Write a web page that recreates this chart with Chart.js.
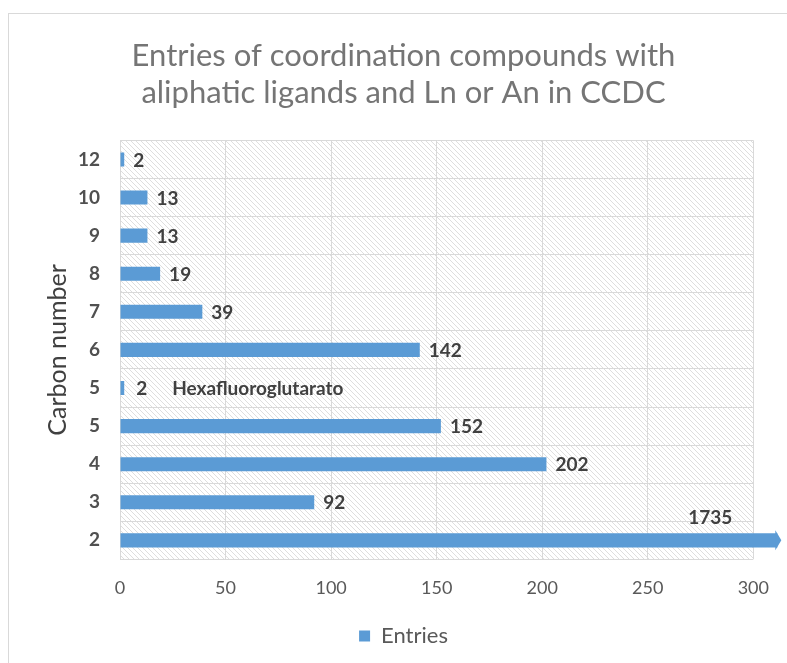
<!DOCTYPE html>
<html>
<head>
<meta charset="utf-8">
<script src="https://cdn.jsdelivr.net/npm/chart.js@4.4.0/dist/chart.umd.min.js"></script>
<style>
html, body { margin: 0; padding: 0; background: #fff; overflow: hidden; }
#frame { position: absolute; left: 8px; top: 13px; width: 820px; height: 700px; border: 1px solid #d9d9d9; }
#wrap { position: absolute; left: 0; top: 0; width: 787px; height: 663px; }
</style>
</head>
<body>
<div id="frame"></div>
<div id="wrap"><canvas id="chart"></canvas></div>
<script>
// categories, top to bottom
const carbonNumbers = ['12', '10', '9', '8', '7', '6', '5', '5', '4', '3', '2'];
const entries = [2, 13, 13, 19, 39, 142, 2, 152, 202, 92, 1735];
const notes = ['', '', '', '', '', '', 'Hexafluoroglutarato', '', '', '', ''];
const xMin = 0, xMax = 300, xStep = 50;

const FONT = 'Lato, "Open Sans", sans-serif';

// fond hachuré de la zone de tracé
const hatchPlugin = {
    id: 'hatch',
    beforeDraw(chart) {
        const { ctx, chartArea } = chart;
        const p = document.createElement('canvas');
        p.width = 5; p.height = 5;
        const pc = p.getContext('2d');
        pc.fillStyle = '#ffffff';
        pc.fillRect(0, 0, 5, 5);
        pc.strokeStyle = '#dedede';
        pc.lineWidth = 1;
        pc.beginPath();
        pc.moveTo(-1, -1); pc.lineTo(6, 6);
        pc.moveTo(-1, 4); pc.lineTo(1, 6);
        pc.moveTo(4, -1); pc.lineTo(6, 1);
        pc.stroke();
        ctx.save();
        ctx.fillStyle = ctx.createPattern(p, 'repeat');
        ctx.fillRect(chartArea.left, chartArea.top, chartArea.right - chartArea.left, chartArea.bottom - chartArea.top);
        ctx.restore();
    }
};

// étiquettes de valeurs + flèche pour la barre tronquée
const labelPlugin = {
    id: 'valueLabels',
    afterDatasetsDraw(chart) {
        const { ctx, chartArea } = chart;
        const meta = chart.getDatasetMeta(0);
        ctx.save();
        ctx.font = 'bold 19px ' + FONT;
        ctx.fillStyle = '#404040';
        ctx.textBaseline = 'middle';
        meta.data.forEach((bar, i) => {
            const v = entries[i];
            if (v > xMax) {
                const tipX = chartArea.right + 28;
                ctx.fillStyle = '#5b9bd5';
                ctx.beginPath();
                ctx.moveTo(tipX - 6, bar.y - 10);
                ctx.lineTo(tipX, bar.y);
                ctx.lineTo(tipX - 6, bar.y + 10);
                ctx.closePath();
                ctx.fill();
                ctx.fillStyle = '#404040';
                ctx.textAlign = 'center';
                ctx.fillText(String(v), chartArea.right - 43, bar.y - 22);
            } else {
                ctx.textAlign = 'left';
                if (notes[i]) {
                    ctx.fillText(String(v), bar.x + 12, bar.y + 1);
                    ctx.fillText(notes[i], bar.x + 48, bar.y + 1);
                } else {
                    ctx.fillText(String(v), bar.x + 9, bar.y + 1);
                }
            }
        });
        ctx.restore();
    }
};

new Chart(document.getElementById('chart'), {
    type: 'bar',
    data: {
        labels: carbonNumbers,
        datasets: [{
            label: 'Entries',
            data: entries,
            backgroundColor: '#5b9bd5',
            barPercentage: 0.37,
            categoryPercentage: 1,
            clip: { left: false, top: false, right: 24, bottom: false }
        }]
    },
    plugins: [hatchPlugin, labelPlugin],
    options: {
        indexAxis: 'y',
        responsive: true,
        maintainAspectRatio: false,
        animation: false,
        layout: { padding: { left: 43, right: 23, top: 37, bottom: 6 } },
        plugins: {
            title: {
                display: true,
                text: ['Entries of coordination compounds with', 'aliphatic ligands and Ln or An in CCDC'],
                color: '#757575',
                font: { family: FONT, size: 31, weight: 'normal' },
                lineHeight: 1.29,
                padding: { top: 0, bottom: 29 }
            },
            legend: {
                position: 'bottom',
                labels: {
                    color: '#595959',
                    font: { family: FONT, size: 22 },
                    boxWidth: 11,
                    boxHeight: 11,
                    padding: 8
                }
            },
            tooltip: { enabled: false }
        },
        scales: {
            x: {
                min: xMin,
                max: xMax,
                ticks: { stepSize: xStep, color: '#595959', font: { family: FONT, size: 18 }, padding: 18 },
                grid: { color: '#d9d9d9', drawTicks: false },
                border: { display: false }
            },
            y: {
                afterFit(scale) { scale.width = 77; },
                ticks: { color: '#505050', font: { family: FONT, size: 19, weight: 'bold' }, padding: 20 },
                grid: { color: '#d9d9d9', drawTicks: false, offset: true },
                border: { display: true, color: '#d9d9d9' },
                title: {
                    display: true,
                    text: 'Carbon number',
                    color: '#404040',
                    font: { family: FONT, size: 25 },
                    padding: { top: 0, bottom: 0 }
                }
            }
        }
    }
});
</script>
</body>
</html>
